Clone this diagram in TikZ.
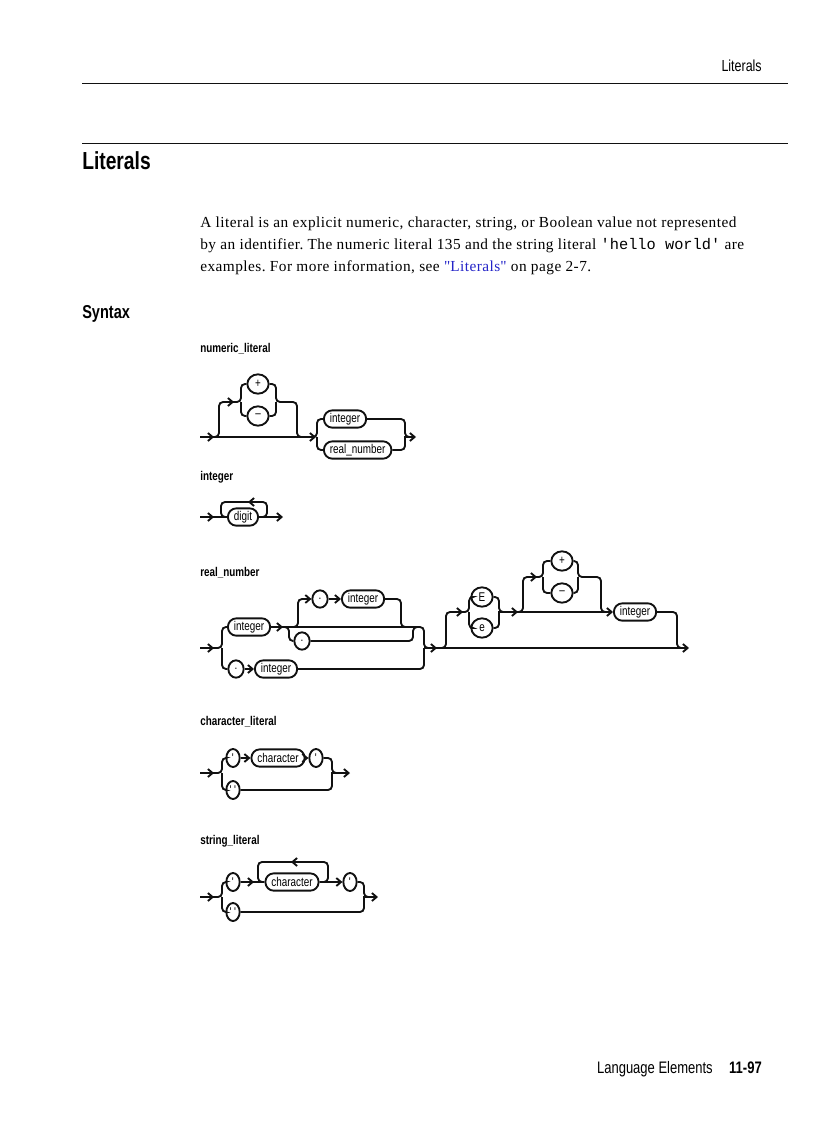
\documentclass[tikz,border=0pt]{standalone}
\usepackage{fontspec}
\setmainfont{Liberation Serif}
\setsansfont{Liberation Sans}[FakeStretch=0.78]
\setmonofont{Liberation Mono}
\usepackage{xcolor}
\usetikzlibrary{positioning, arrows.meta, shapes.geometric}
\definecolor{ink}{HTML}{111111}
\definecolor{linkblue}{HTML}{2424C8}
\tikzset{
  term/.style     = {rectangle, rounded corners=6.3pt, draw=ink, line width=1.4pt,
                     minimum height=13pt, inner xsep=4.5pt, inner ysep=0pt,
                     font=\sffamily\fontsize{9.5}{10}\selectfont},
  sym/.style      = {ellipse, draw=ink, line width=1.4pt, minimum width=16pt,
                     minimum height=14.5pt, inner sep=0pt,
                     font=\sffamily\fontsize{9.5}{10}\selectfont},
  dotsym/.style   = {minimum width=11.5pt, minimum height=13pt},
  qsym/.style     = {minimum width=10pt, minimum height=13.5pt},
  rail/.style     = {line width=1.4pt, draw=ink, rounded corners=3pt},
  ar/.style       = {rail, -{Straight Barb[length=3.5pt,width=6pt]}},
  rulename/.style = {anchor=base west, inner sep=0pt,
                     font=\sffamily\bfseries\fontsize{9.5}{11}\selectfont},
  para/.style     = {anchor=base west, inner sep=0pt,
                     font=\fontsize{11.5}{14}\selectfont\addfontfeature{LetterSpace=3}\frenchspacing},
}

\begin{document}
\begin{tikzpicture}[x=0.75pt, y=-0.75pt]
  \useasboundingbox (0,0) rectangle (816,1123);

  % page head
  \node[anchor=base east, inner sep=0pt, font=\sffamily\fontsize{12}{14}\selectfont] (head) at (762,72) {Literals};
  \draw[ink, line width=0.5pt] (82,83) -- (788,83);
  \draw[ink, line width=0.5pt] (82,143) -- (788,143);
  \node[anchor=base west, inner sep=0pt, font=\sffamily\bfseries\fontsize{18.5}{20}\selectfont] (title) at (82,170) {Literals};

  \node[para] (line1) at (200,228) {A literal is an explicit numeric, character, string, or Boolean value not represented};
  \node[para] (line2) at (200,249.5) {by an identifier. The numeric literal 135 and the string literal {\fontsize{11.5}{14}\ttfamily\addfontfeature{LetterSpace=0}'hello world'} are};
  \node[para] (line3) at (200,271) {examples. For more information, see \textcolor{linkblue}{\textquotedbl Literals\textquotedbl} on page 2-7.};

  \node[anchor=base west, inner sep=0pt, font=\sffamily\bfseries\fontsize{14}{16}\selectfont] (syntax) at (82,318) {Syntax};

  % numeric_literal
  \node[rulename] (numlabel) at (200,352.5) {numeric\_literal};
  \node[sym] (plus) at (258,384) {+};
  \node[sym] (minus) at (258,416) {\textendash};
  \node[term, anchor=west] (nint) at (323,419) {integer};
  \node[term, anchor=west] (nreal) at (323,450) {real\_number};

  \draw[ar] (200,437) -- (214,437);
  \draw[rail] (212,437) -- (306,437);
  \draw[ar] (300,437) -- (316,437);
  \draw[ar] (210,437) -- (219,437) |- (234,402);
  \draw[rail] (232,402) -- (241,402) |- (plus.west);
  \draw[rail] (241,402) |- (minus.west);
  \draw[rail] (plus.east) -| (276,402) -| (297,437) -- (304,437);
  \draw[rail] (minus.east) -| (276,402);
  \draw[rail] (310,437) -- (317,437) |- (nint.west);
  \draw[rail] (317,437) |- (nreal.west);
  \draw[rail] (nint.east) -| (405,437) -- (410,437);
  \draw[rail] (nreal.east) -| (405,437);
  \draw[ar] (404,437) -- (416,437);

  % integer
  \node[rulename] (intlabel) at (200,480.5) {integer};
  \node[term] (digit) at (243,517) {digit};

  \draw[ar] (200,517) -- (214,517);
  \draw[rail] (212,517) -- (digit.west);
  \draw[ar] (digit.east) -| (267,502) -- (248,502);
  \draw[rail] (250,502) -| (221,517) -- (digit.west);
  \draw[ar] (digit.east) -- (283,517);

  % real_number
  \node[rulename] (reallabel) at (200,576.5) {real\_number};
  \node[term, anchor=west] (rint) at (227,627) {integer};
  \node[sym, dotsym] (rdot) at (320,599) {.};
  \node[term, anchor=west] (rfrac) at (341,599) {integer};
  \node[sym, dotsym] (rpoint) at (302,641) {.};
  \node[sym, dotsym] (rlead) at (236,669) {.};
  \node[term, anchor=west] (rtail) at (254,669) {integer};
  \node[sym] (rbigE) at (482,597) {E};
  \node[sym] (rsmalle) at (482,628) {e};
  \node[sym] (rplus) at (562,561) {+};
  \node[sym] (rminus) at (562,593) {\textendash};
  \node[term, anchor=west] (rexp) at (613,612) {integer};

  \draw[ar] (200,648) -- (214,648);
  \draw[rail] (212,648) -- (222,648) |- (rint.west);
  \draw[rail] (222,648) |- (rlead.west);
  \draw[ar] (rint.east) -- (283,627);
  \draw[rail] (281,627) -| (424,648) -- (430,648);
  \draw[rail] (285,627) -- (289,627) |- (rpoint.west);
  \draw[rail] (rpoint.east) -| (413,627) -- (418,627);
  \draw[ar] (292,627) -- (298,627) |- (rdot.west);
  \draw[ar] (rdot.east) -- (rfrac.west);
  \draw[rail] (rfrac.east) -| (401,627) -- (407,627);
  \draw[ar] (rlead.east) -- (rtail.west);
  \draw[rail] (rtail.east) -| (424,648);
  \draw[ar] (424,648) -- (437,648);
  \draw[rail] (436,648) -- (677,648);
  \draw[ar] (676,648) -- (689,648);
  \draw[ar] (440,648) -- (446,648) |- (463,612);
  \draw[rail] (461,612) -- (469,612) |- (rbigE.west);
  \draw[rail] (469,612) |- (rsmalle.west);
  \draw[rail] (rbigE.east) -| (499,612) -- (505,612);
  \draw[rail] (rsmalle.east) -| (499,612);
  \draw[ar] (498,612) -- (518,612);
  \draw[rail] (516,612) -- (600,612);
  \draw[ar] (598,612) -- (rexp.west);
  \draw[ar] (516,612) -- (523,612) |- (537,577);
  \draw[rail] (535,577) -- (543,577) |- (rplus.west);
  \draw[rail] (543,577) |- (rminus.west);
  \draw[rail] (rplus.east) -| (578,577) -| (601,612) -- (607,612);
  \draw[rail] (rminus.east) -| (578,577);
  \draw[rail] (rexp.east) -| (677,648) -- (683,648);

  % character_literal
  \node[rulename] (charlabel) at (200,725.5) {character\_literal};
  \node[sym, qsym] (cq) at (233,758) {\textquotesingle};
  \node[term] (cchar) at (278,758) {character};
  \node[sym, qsym] (cqend) at (316,758) {\textquotesingle};
  \node[sym, qsym] (cqq) at (233,790) {\textquotesingle\,\textquotesingle};

  \draw[ar] (200,773) -- (214,773);
  \draw[rail] (212,773) -- (222,773) |- (cq.west);
  \draw[rail] (222,773) |- (cqq.west);
  \draw[ar] (cq.east) -- (cchar.west);
  \draw[ar] (cchar.east) -- (cqend.west);
  \draw[rail] (cqend.east) -| (332,773) -- (338,773);
  \draw[rail] (cqq.east) -| (332,773);
  \draw[ar] (331,773) -- (350,773);

  % string_literal
  \node[rulename] (strlabel) at (200,844) {string\_literal};
  \node[sym, qsym] (sq) at (233,882) {\textquotesingle};
  \node[term] (schar) at (292,882) {character};
  \node[sym, qsym] (sqend) at (350,882) {\textquotesingle};
  \node[sym, qsym] (sqq) at (233,912) {\textquotesingle\,\textquotesingle};

  \draw[ar] (200,897) -- (214,897);
  \draw[rail] (212,897) -- (222,897) |- (sq.west);
  \draw[rail] (222,897) |- (sqq.west);
  \draw[ar] (sq.east) -- (254,882);
  \draw[rail] (252,882) -- (schar.west);
  \draw[ar] (schar.east) -| (328,862) -- (291,862);
  \draw[rail] (293,862) -| (258,882) -- (schar.west);
  \draw[ar] (schar.east) -- (sqend.west);
  \draw[rail] (sqend.east) -| (364,897) -- (370,897);
  \draw[rail] (sqq.east) -| (364,897);
  \draw[ar] (363,897) -- (378,897);

  % page foot
  \node[anchor=base east, inner sep=0pt, font=\sffamily\bfseries\fontsize{12.5}{14}\selectfont] (pagenum) at (762,1073) {11-97};
  \node[anchor=base east, inner sep=0pt, font=\sffamily\fontsize{12.5}{14}\selectfont] (chapter) at (713,1073) {Language Elements};

\end{tikzpicture}
\end{document}
